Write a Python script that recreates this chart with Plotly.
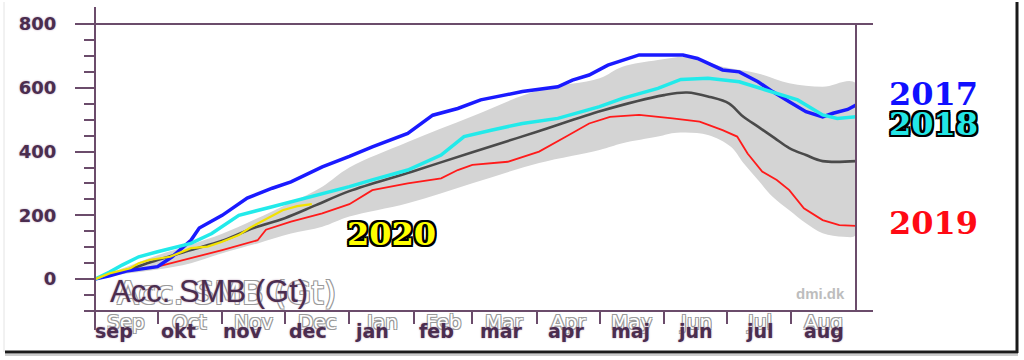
import plotly.graph_objects as go

# ---------------- data (day 0 = 1 Sep, values in Gt) ----------------
mean_days = [0, 15, 30, 46, 61, 76, 91, 106, 122, 152, 181, 212, 243, 273, 284, 295, 304, 311, 318, 326, 333, 341, 349, 365]
mean_vals = [0, 28, 60, 91, 120, 160, 191, 232, 276, 337, 398, 462, 528, 577, 585, 571, 551, 509, 478, 442, 411, 389, 370, 370]

upper_days = [0, 15, 30, 46, 61, 76, 94, 109, 122, 150, 181, 213, 242, 253, 270, 285, 301, 318, 333, 349, 365]
upper_vals = [0, 38, 75, 108, 142, 185, 240, 290, 350, 430, 511, 593, 630, 666, 687, 697, 666, 645, 614, 603, 614]

lower_days = [0, 13, 30, 46, 61, 78, 94, 109, 122, 150, 181, 213, 242, 253, 270, 279, 294, 305, 311, 318, 325, 333, 341, 349, 359, 365]
lower_vals = [0, 15, 30, 50, 81, 112, 143, 164, 196, 238, 301, 364, 405, 426, 447, 459, 452, 415, 364, 311, 258, 216, 175, 144, 133, 138]

y2017_days = [0, 7, 15, 30, 37, 46, 50, 61, 73, 85, 94, 109, 122, 133, 150, 162, 174, 185, 205, 222, 229, 237, 246, 253, 261, 282, 289, 301, 309, 318, 325, 333, 341, 349, 354, 361, 365]
y2017_vals = [0, 10, 25, 39, 70, 122, 160, 200, 254, 285, 305, 352, 385, 415, 457, 514, 535, 562, 588, 603, 624, 640, 671, 685, 703, 703, 692, 656, 650, 619, 588, 556, 525, 509, 520, 532, 546]

y2018_days = [0, 7, 13, 21, 30, 46, 56, 69, 85, 101, 122, 133, 150, 166, 177, 190, 205, 222, 237, 242, 253, 270, 281, 294, 309, 325, 337, 349, 356, 365]
y2018_vals = [0, 22, 44, 70, 86, 112, 143, 200, 227, 254, 290, 311, 342, 389, 447, 467, 488, 504, 530, 541, 567, 598, 626, 630, 619, 588, 562, 515, 504, 509]

y2019_days = [0, 13, 30, 46, 61, 78, 82, 94, 109, 122, 133, 150, 166, 174, 181, 198, 213, 226, 237, 247, 261, 277, 290, 301, 308, 313, 320, 327, 333, 340, 349, 357, 365]
y2019_vals = [0, 23, 39, 65, 91, 122, 155, 180, 206, 235, 279, 300, 316, 342, 358, 368, 400, 447, 488, 509, 515, 504, 494, 467, 447, 394, 337, 311, 279, 222, 185, 169, 167]

y2020_days = [0, 7, 17, 21, 26, 36, 46, 54, 61, 69, 74, 83, 90, 97, 104]
y2020_vals = [0, 18, 34, 50, 60, 70, 97, 102, 117, 138, 160, 191, 216, 229, 235]

month_starts = [0, 30, 61, 91, 122, 153, 181, 212, 242, 273, 303, 334, 365]
month_en = ["Sep", "Oct", "Nov", "Dec", "Jan", "Feb", "Mar", "Apr", "May", "Jun", "Jul", "Aug"]
month_da = ["sep", "okt", "nov", "dec", "jan", "feb", "mar", "apr", "maj", "jun", "jul", "aug"]
y_ticks = [0, 200, 400, 600, 800]

# ---------------- style ----------------
AX = "#6b4c6b"
DARK = "#4b2d4f"
W, H = 1024, 360
L, R, T, B = 95, 168, 24, 49
PW, PH = W - L - R, H - T - B


def px(xp):
    return (xp - L) / PW


def py(yp):
    return (H - B - yp) / PH


fig = go.Figure()

# grey band
fig.add_trace(go.Scatter(
    x=upper_days + lower_days[::-1], y=upper_vals + lower_vals[::-1],
    fill="toself", fillcolor="#d4d4d4", line=dict(width=0, shape="spline"),
    mode="lines", hoverinfo="skip", showlegend=False))
fig.add_trace(go.Scatter(x=mean_days, y=mean_vals, mode="lines",
                         line=dict(color="#4a4a4a", width=2.6, shape="spline"), showlegend=False))
fig.add_trace(go.Scatter(x=y2019_days, y=y2019_vals, mode="lines",
                         line=dict(color="#ff1a1a", width=1.8), showlegend=False))
fig.add_trace(go.Scatter(x=y2017_days, y=y2017_vals, mode="lines",
                         line=dict(color="#1a1aff", width=3.5), showlegend=False))
fig.add_trace(go.Scatter(x=y2018_days, y=y2018_vals, mode="lines",
                         line=dict(color="#22eaea", width=3.5), showlegend=False))
fig.add_trace(go.Scatter(x=y2020_days, y=y2020_vals, mode="lines",
                         line=dict(color="#f2e200", width=2.2), showlegend=False))

tick_font = dict(family="DejaVu Sans", size=18, color=DARK, weight="bold",
                 shadow="0 0 2px #b59ab5")

fig.update_layout(
    width=W, height=H, margin=dict(l=L, r=R, t=T, b=B),
    paper_bgcolor="white", plot_bgcolor="white",
    xaxis=dict(range=[0, 365], tickvals=month_starts[1:-1], ticks="outside", ticklen=12,
               tickwidth=2, tickcolor=AX, showticklabels=False, showgrid=False,
               zeroline=False, showline=False, fixedrange=True),
    xaxis2=dict(range=[0, 365], overlaying="x", side="top", tickvals=month_starts[1:-1],
                ticks="outside", ticklen=17, tickwidth=2, tickcolor=AX,
                showticklabels=False, showgrid=False, zeroline=False, showline=False),
    yaxis=dict(range=[-100, 800], tickvals=y_ticks, ticks="outside", ticklen=19,
               tickwidth=2, tickcolor=AX, tickfont=tick_font, ticklabelstandoff=15,
               minor=dict(dtick=50, tick0=0, ticks="outside", ticklen=10, tickwidth=2,
                          tickcolor=AX, showgrid=False),
               showgrid=False, zeroline=False, showline=False),
    yaxis2=dict(range=[-100, 800], overlaying="y", side="right", tickvals=y_ticks,
                ticks="outside", ticklen=17, tickwidth=2, tickcolor=AX,
                minor=dict(dtick=50, tick0=0, ticks="outside", ticklen=10, tickwidth=2,
                           tickcolor=AX, showgrid=False),
                showticklabels=False, showgrid=False, zeroline=False, showline=False),
)

# frame lines
line = dict(color=AX, width=2)
shapes = [
    dict(type="line", xref="paper", yref="paper", x0=px(76), x1=px(873), y0=1, y1=1, line=line),
    dict(type="line", xref="paper", yref="paper", x0=px(84), x1=px(873), y0=0, y1=0, line=line),
    dict(type="line", xref="paper", yref="paper", x0=0, x1=0, y0=py(330), y1=py(7), line=line),
    dict(type="line", xref="paper", yref="paper", x0=1, x1=1, y0=0, y1=1, line=line),
    # outer picture border
    dict(type="line", xref="paper", yref="paper", x0=px(5), x1=px(1018), y0=py(355), y1=py(355),
         line=dict(color="#cccccc", width=2)),
    dict(type="line", xref="paper", yref="paper", x0=px(5), x1=px(1018), y0=py(352), y1=py(352),
         line=dict(color="#1a1a1a", width=3)),
    dict(type="line", xref="paper", yref="paper", x0=px(1017), x1=px(1017), y0=py(353), y1=py(2),
         line=dict(color="#1a1a1a", width=3)),
    dict(type="line", xref="paper", yref="paper", x0=px(4), x1=px(4), y0=py(352), y1=py(2),
         line=dict(color="#e4e4e4", width=1)),
]
fig.update_layout(shapes=shapes)

ann = []
outline_grey = "-1px -1px 0 #9a9a9a, 1px -1px 0 #9a9a9a, -1px 1px 0 #9a9a9a, 1px 1px 0 #9a9a9a"
# month labels: faint English behind, bold Danish in front
for i, m in enumerate(month_en):
    c = (month_starts[i] + month_starts[i + 1]) / 2
    ann.append(dict(x=c, y=py(322), xref="x", yref="paper", text=m, showarrow=False,
                    font=dict(family="DejaVu Sans", size=20, color="white", shadow=outline_grey),
                    xanchor="center", yanchor="middle"))
for i, m in enumerate(month_da):
    xc = 9.1 + 30.98 * i
    ann.append(dict(x=xc, y=py(331), xref="x", yref="paper", text=m, showarrow=False,
                    font=dict(family="DejaVu Sans", size=19, color=DARK, weight="bold",
                              shadow="0 0 2px #b59ab5"),
                    xanchor="center", yanchor="middle"))

# axis title texts
ann.append(dict(x=px(115), y=py(293), xref="paper", yref="paper", text="Acc. SMB (Gt)",
                showarrow=False, xanchor="left", yanchor="middle",
                font=dict(family="DejaVu Sans", size=32, color="white", shadow=outline_grey)))
ann.append(dict(x=px(108), y=py(291), xref="paper", yref="paper", text="Acc. SMB (Gt)",
                showarrow=False, xanchor="left", yanchor="middle",
                font=dict(family="Liberation Sans", size=31, color=DARK, shadow="0 0 2px #b59ab5")))
ann.append(dict(x=px(820), y=py(293), xref="paper", yref="paper", text="dmi.dk",
                showarrow=False, xanchor="center", yanchor="middle",
                font=dict(family="Liberation Sans", size=15, color="#bdbdbd", weight="bold")))

black_outline = ", ".join(f"{a}px {b}px 0 #000" for a, b in
                          [(-2, -2), (2, -2), (-2, 2), (2, 2), (0, 2), (0, -2), (2, 0), (-2, 0)])
year_font = dict(family="DejaVu Serif", size=32, weight="bold")
ann.append(dict(x=px(887), y=py(94), xref="paper", yref="paper", text="2017", showarrow=False,
                xanchor="left", yanchor="middle", font=dict(**year_font, color="#1010ff")))
ann.append(dict(x=px(887), y=py(124), xref="paper", yref="paper", text="2018", showarrow=False,
                xanchor="left", yanchor="middle",
                font=dict(**year_font, color="#22e6e6", shadow=black_outline)))
ann.append(dict(x=px(887), y=py(223), xref="paper", yref="paper", text="2019", showarrow=False,
                xanchor="left", yanchor="middle", font=dict(**year_font, color="#ff0a14")))
ann.append(dict(x=px(345), y=py(234), xref="paper", yref="paper", text="2020", showarrow=False,
                xanchor="left", yanchor="middle",
                font=dict(**year_font, color="#ffff00", shadow=black_outline)))
fig.update_layout(annotations=ann)

fig.write_html("out.html", config={"displayModeBar": False},
               post_script="document.body.style.margin='0px';")
